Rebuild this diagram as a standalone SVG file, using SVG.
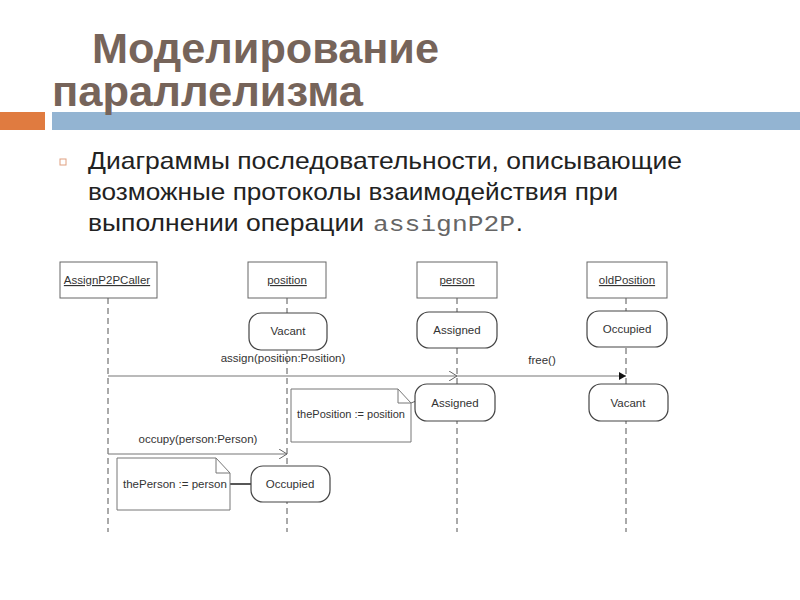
<svg xmlns="http://www.w3.org/2000/svg" width="800" height="600" viewBox="0 0 800 600">
<style>
.title{font-family:"Liberation Sans",Arial,sans-serif;font-weight:bold;font-size:43px;fill:#76645A}
.body{font-family:"Liberation Sans",Arial,sans-serif;font-size:24px;fill:#222}
.mono{font-family:"Liberation Mono","Courier New",Courier,monospace;font-size:22px;fill:#666}
.lbl{font-family:"Liberation Sans",Arial,sans-serif;font-size:11.5px;fill:#333}
.box{fill:#fff;stroke:#666;stroke-width:1}
.state{fill:#fff;stroke:#444;stroke-width:1.2}
.note{fill:#fff;stroke:#777;stroke-width:1}
.life{stroke:#555;stroke-width:1;stroke-dasharray:6 4;fill:none}
.msg{stroke:#777;stroke-width:1.2;fill:none}
</style>
<defs>
<marker id="open" markerWidth="10" markerHeight="10" refX="9" refY="5" orient="auto" markerUnits="userSpaceOnUse">
<path d="M1,0 L9,5 L1,10" fill="none" stroke="#666" stroke-width="1"/>
</marker>
<marker id="filled" markerWidth="8" markerHeight="8" refX="7" refY="4" orient="auto" markerUnits="userSpaceOnUse">
<path d="M0,0 L7,4 L0,8 Z" fill="#111"/>
</marker>
</defs>
<rect width="800" height="600" fill="#fff"/>
<g id="header">
<rect x="0" y="112" width="45" height="18" fill="#E07B40"/>
<rect x="52" y="112" width="748" height="18" fill="#93B4D2"/>
<text class="title" x="92" y="63" textLength="347" lengthAdjust="spacingAndGlyphs">Моделирование</text>
<text class="title" x="52" y="106" textLength="311" lengthAdjust="spacingAndGlyphs">параллелизма</text>
<rect x="60" y="159" width="6" height="6" fill="none" stroke="#E0A080" stroke-width="1"/>
<text class="body" x="88" y="169" textLength="594" lengthAdjust="spacingAndGlyphs">Диаграммы последовательности, описывающие</text>
<text class="body" x="88" y="200" textLength="530" lengthAdjust="spacingAndGlyphs">возможные протоколы взаимодействия при</text>
<text class="body" x="88" y="231" textLength="276" lengthAdjust="spacingAndGlyphs">выполнении операции</text>
<text class="mono" x="373" y="231" textLength="142" lengthAdjust="spacingAndGlyphs">assignP2P</text>
<text class="body" x="516" y="231">.</text>
</g>
<g id="connectors">
<line class="life" x1="108" y1="298" x2="108" y2="532"/>
<line class="life" x1="287" y1="298" x2="287" y2="532"/>
<line class="life" x1="457" y1="298" x2="457" y2="532"/>
<line class="life" x1="626" y1="298" x2="626" y2="532"/>
<line class="msg" x1="108" y1="376" x2="457" y2="376" marker-end="url(#open)"/>
<line class="msg" x1="457" y1="376" x2="626" y2="376" marker-end="url(#filled)"/>
<line class="msg" x1="108" y1="454" x2="287" y2="454" marker-end="url(#open)"/>
<line x1="230" y1="484" x2="251" y2="484" stroke="#444" stroke-width="1.8"/>
<line x1="411" y1="403" x2="416" y2="401" stroke="#666" stroke-width="1"/>
<text class="lbl" x="283" y="362" text-anchor="middle">assign(position:Position)</text>
<text class="lbl" x="542" y="364" text-anchor="middle">free()</text>
<text class="lbl" x="198" y="443" text-anchor="middle">occupy(person:Person)</text>
</g>
<g id="AssignP2PCaller">
<rect class="box" x="60" y="262" width="97" height="36"/>
<text class="lbl" x="107" y="284" text-anchor="middle" text-decoration="underline">AssignP2PCaller</text>
</g>
<g id="position">
<rect class="box" x="248" y="262" width="78" height="36"/>
<text class="lbl" x="287" y="284" text-anchor="middle" text-decoration="underline">position</text>
</g>
<g id="person">
<rect class="box" x="417" y="262" width="80" height="36"/>
<text class="lbl" x="457" y="284" text-anchor="middle" text-decoration="underline">person</text>
</g>
<g id="oldPosition">
<rect class="box" x="587" y="262" width="80" height="36"/>
<text class="lbl" x="627" y="284" text-anchor="middle" text-decoration="underline">oldPosition</text>
</g>
<g id="state-vacant1">
<rect class="state" x="249" y="313" width="78" height="37" rx="12"/>
<text class="lbl" x="288" y="335" text-anchor="middle">Vacant</text>
</g>
<g id="state-assigned1">
<rect class="state" x="417" y="312" width="80" height="36" rx="12"/>
<text class="lbl" x="457" y="334" text-anchor="middle">Assigned</text>
</g>
<g id="state-occupied1">
<rect class="state" x="587" y="311" width="80" height="36" rx="12"/>
<text class="lbl" x="627" y="333" text-anchor="middle">Occupied</text>
</g>
<g id="state-assigned2">
<rect class="state" x="415" y="384" width="80" height="37" rx="12"/>
<text class="lbl" x="455" y="407" text-anchor="middle">Assigned</text>
</g>
<g id="state-vacant2">
<rect class="state" x="589" y="384" width="79" height="37" rx="12"/>
<text class="lbl" x="628" y="407" text-anchor="middle">Vacant</text>
</g>
<g id="state-occupied2">
<rect class="state" x="251" y="466" width="79" height="36" rx="12"/>
<text class="lbl" x="290" y="488" text-anchor="middle">Occupied</text>
</g>
<g id="note-thePosition">
<path class="note" d="M291,389 L398,389 L411,403 L411,442 L291,442 Z"/>
<path d="M398,389 L398,403 L411,403" fill="none" stroke="#777" stroke-width="1"/>
<text class="lbl" x="297" y="418" textLength="108" lengthAdjust="spacingAndGlyphs">thePosition := position</text>
</g>
<g id="note-thePerson">
<path class="note" d="M117,458 L216,458 L230,473 L230,510 L117,510 Z"/>
<path d="M216,458 L216,473 L230,473" fill="none" stroke="#777" stroke-width="1"/>
<text class="lbl" x="123" y="488">thePerson := person</text>
</g>
</svg>
